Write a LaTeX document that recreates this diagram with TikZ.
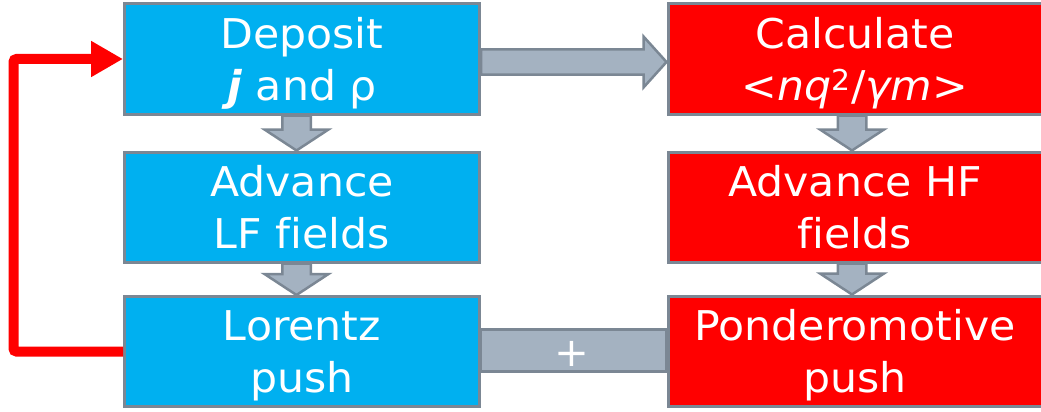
\documentclass[tikz,border=0pt]{standalone}
\usepackage{fontspec}
\setmainfont{DejaVu Sans}[FakeStretch=1.04, Ligatures=NoCommon]
\usetikzlibrary{calc,arrows.meta}
\definecolor{boxblue}{HTML}{00B0F0}
\definecolor{boxred}{HTML}{FF0000}
\definecolor{edgegray}{HTML}{7B8794}
\definecolor{arrowfill}{HTML}{A4B2C1}
\newcommand\blockdown[3]{%
  \draw[blockarrow] ($(#1.south)+(#3-14.25,0)$) -- ($(#2.north)+(#3-14.25,-21)$)
    -- ($(#2.north)+(#3-32,-21)$) -- ($(#2.north)+(#3,0)$)
    -- ($(#2.north)+(#3+32,-21)$) -- ($(#2.north)+(#3+14.25,-21)$)
    -- ($(#1.south)+(#3+14.25,0)$) -- cycle;}
\begin{document}
\begin{tikzpicture}[x=1pt,y=-1pt,
  box/.style={draw=edgegray, line width=3pt, minimum width=355pt, minimum height=110pt,
    inner sep=0pt, text=white, font=\fontsize{41}{52}\selectfont, align=center,
    text height=82pt, text depth=0pt},
  bluebox/.style={box, fill=boxblue},
  redbox/.style={box, fill=boxred, minimum width=374pt},
  blockarrow/.style={draw=edgegray, fill=arrowfill, line width=2.5pt, line join=miter},
  plussign/.style={text=white, font=\fontsize{40}{40}\selectfont, inner sep=0pt},
  loopline/.style={draw=boxred, line width=10pt, rounded corners=3pt,
    -{Triangle[length=32pt,width=34pt]}}]
\useasboundingbox (0,0) rectangle (1041,412);
\clip (0,0) rectangle (1041,412);

\node[bluebox] (dep) at (302,59) {Deposit\\\textbf{\textit{j}} and ρ};
\node[bluebox] (lf) at (302,207) {Advance\\LF fields};
\node[bluebox] (lor) at (302,351.5) {Lorentz\\push};
\node[redbox] (calc) at (855,59) {Calculate\\<\textit{nq}\textsuperscript{2}/\textit{γm}>};
\node[redbox] (hf) at (855,207) {Advance HF\\fields};
\node[redbox] (pond) at (855,351) {Ponderomotive\\push};

\blockdown{dep}{lf}{-5.5}
\blockdown{lf}{lor}{-5.5}
\blockdown{calc}{hf}{-3}
\blockdown{hf}{pond}{-3}

\draw[blockarrow] ($(dep.east)+(0,3-12.5)$) -- ($(calc.west)+(-23,3-12.5)$)
  -- ($(calc.west)+(-23,3-25.5)$) -- ($(calc.west)+(0,3)$)
  -- ($(calc.west)+(-23,3+25.5)$) -- ($(calc.west)+(-23,3+12.5)$)
  -- ($(dep.east)+(0,3+12.5)$) -- cycle;

\draw[blockarrow] ($(lor.east)+(0,-22.25)$) rectangle ($(pond.west)+(0,20.25)$);
\node[plussign] (pl) at ($(lor.east)!0.5!(pond.west)+(-2,3)$) {+};

\draw[loopline] (lor.west) -- ++(-109.5,0) |- (dep.west);
\end{tikzpicture}
\end{document}
